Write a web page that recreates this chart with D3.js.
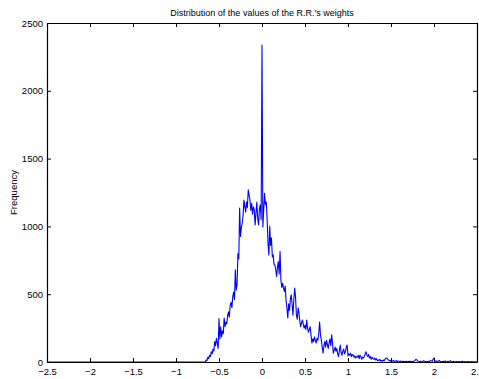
<!DOCTYPE html>
<html><head><meta charset="utf-8">
<script src="https://cdn.jsdelivr.net/npm/d3@7"></script>
<style>body{margin:0;background:#fff}svg{display:block}text{font-family:"Liberation Sans",Arial,sans-serif}</style>
</head><body>
<script>
// Data
const title = "Distribution of the values of the R.R.'s weights";
const yLabel = "Frequency";
const xTicks = [-2.5,-2,-1.5,-1,-0.5,0,0.5,1,1.5,2,2.5];
const yTicks = [0,500,1000,1500,2000,2500];
const emptyX = [-2.5, -0.67];   // flat zero region
const emptyY = [0, 0];
const binStart = -0.66, binStep = 0.01;
const counts = [
0,15,10,35,25,50,40,75,60,95,80,150,120,175,140,100,320,170,260,185,230,210,325,260,295,280,340,370,330,420,
440,400,480,515,460,680,530,570,800,760,1135,925,990,1025,1080,1195,1150,1105,1180,1140,1270,1230,1195,1120,1170,1090,1145,1120,1010,1100,
1180,1060,1010,1130,1160,1050,2337,995,1120,1245,1160,1180,1050,875,790,1000,860,915,775,790,720,715,680,630,700,740,650,815,605,550,
580,545,520,560,450,400,325,430,380,470,495,420,345,460,545,480,345,315,400,360,300,260,290,310,280,250,270,240,310,250,
220,240,260,200,140,170,150,185,160,140,175,160,210,295,200,160,110,65,120,150,110,160,130,100,140,170,120,200,140,65,
90,110,80,100,60,40,85,125,70,50,80,95,60,75,110,125,45,60,50,65,40,55,50,35,45,30,40,35,50,25,
50,40,20,35,30,40,60,75,50,40,55,30,40,20,35,25,20,30,15,25,10,15,10,20,8,12,5,15,8,20,
28,30,22,15,10,12,5,8,6,12,4,6,10,3,8,5,4,7,3,5,2,6,4,3,5,2,4,6,3,5,
2,4,3,8,12,20,15,8,5,3,6,4,2,5,10,6,3,4,2,5,3,6,12,8,5,20,30,10,5,8,
3,6,12,5,3,4,2,5,3,8,4,2,5,3,6,10,4,2,3,5,2,1,3,2,4,1,2,3,1,6,
2,1,3,2,1,2,4,1,2,1,3,1,2,1,0,1,0
];

const W = 479, H = 379;
const m = {l:47, r:2, t:23, b:17};
const svg = d3.select("body").append("svg").attr("width", W).attr("height", H);
const x = d3.scaleLinear().domain([-2.5, 2.5]).range([m.l, W - m.r]);
const y = d3.scaleLinear().domain([0, 2500]).range([H - m.b, m.t]);

const pts = emptyX.map((v,i)=>[v, emptyY[i]])
  .concat(counts.map((c,i)=>[binStart + i*binStep, c]));

svg.append("path").datum(pts)
  .attr("fill","none").attr("stroke","#0000ff").attr("stroke-width",1.1)
  .attr("stroke-linejoin","round")
  .attr("d", d3.line().x(d=>x(d[0])).y(d=>y(d[1])));

const fmt = d => String(d).replace("-", "\u2212");
const tl = 4;
const gx = svg.append("g").attr("transform",`translate(0,${y(0)})`)
  .call(d3.axisBottom(x).tickValues(xTicks).tickSize(-tl).tickSizeOuter(0).tickPadding(6).tickFormat(fmt));
const gx2 = svg.append("g").attr("transform",`translate(0,${y(2500)})`)
  .call(d3.axisTop(x).tickValues(xTicks).tickSize(-tl).tickSizeOuter(0).tickFormat(""));
const gy = svg.append("g").attr("transform",`translate(${x(-2.5)},0)`)
  .call(d3.axisLeft(y).tickValues(yTicks).tickSize(-tl).tickSizeOuter(0).tickPadding(4).tickFormat(d3.format("d")));
const gy2 = svg.append("g").attr("transform",`translate(${x(2.5)},0)`)
  .call(d3.axisRight(y).tickValues(yTicks).tickSize(-tl).tickSizeOuter(0).tickFormat(""));
[gx,gx2,gy,gy2].forEach(g=>{
  g.select(".domain").attr("stroke","#000").attr("stroke-width",1.2);
  g.selectAll(".tick line").attr("stroke","#000");
  g.selectAll("text").attr("font-size",9.5).attr("fill","#000")
    .attr("font-family",'"Liberation Sans",Arial,sans-serif');
});

svg.append("text").attr("x",(x(-2.5)+x(2.5))/2).attr("y",16)
  .attr("text-anchor","middle").attr("font-size",9).text(title);
svg.append("text").attr("transform",`translate(17,${(y(0)+y(2500))/2}) rotate(-90)`)
  .attr("text-anchor","middle").attr("font-size",9.5).text(yLabel);
</script>
</body></html>
